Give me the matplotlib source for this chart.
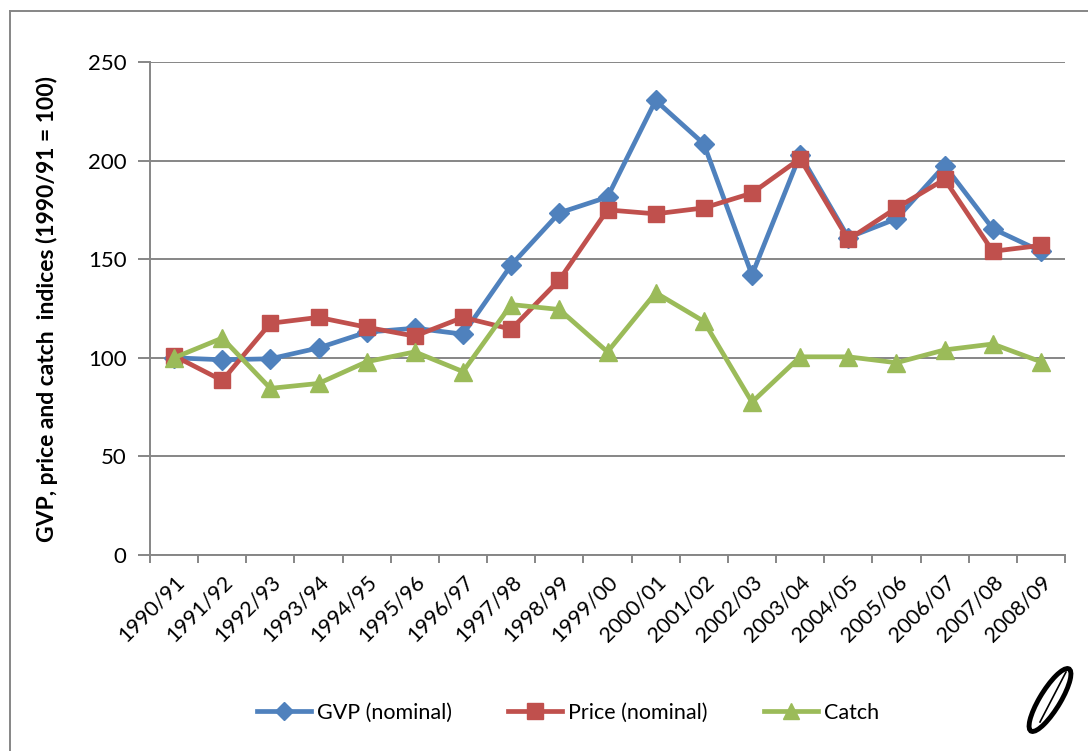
import matplotlib
matplotlib.use('Agg')
import matplotlib.pyplot as plt
from matplotlib.patches import Ellipse
from matplotlib.lines import Line2D
import numpy as np

plt.rcParams['font.family'] = ['Lato', 'DejaVu Sans']

years = ['1990/91', '1991/92', '1992/93', '1993/94', '1994/95', '1995/96',
         '1996/97', '1997/98', '1998/99', '1999/00', '2000/01', '2001/02',
         '2002/03', '2003/04', '2004/05', '2005/06', '2006/07', '2007/08',
         '2008/09']
gvp = [100, 99, 99.5, 105, 113, 115, 112, 147, 173.5, 181.5, 230.5, 208.5,
       142, 203, 161, 170.5, 197.5, 165.5, 154]
price = [101, 88.5, 117.5, 120.5, 115.5, 111, 120.5, 114.5, 139.5, 175, 173,
         176, 183.5, 201, 160, 176, 190.5, 154, 157]
catch = [100, 110, 84.5, 87, 98, 103, 93, 127, 124.5, 103, 133, 118.5, 77.5,
         100.5, 100.5, 97.5, 104, 107, 98]

blue = '#4F81BD'
red = '#C0504D'
green = '#9BBB59'
grey = '#868686'

fig = plt.figure(figsize=(10.88, 7.51), dpi=100)
ax = fig.add_axes([150 / 1088, 1 - 555 / 751, 915 / 1088, 493 / 751])

x = np.arange(len(years))
ax.plot(x, gvp, color=blue, lw=3.4, marker='D', ms=10, zorder=3, label='GVP (nominal)')
ax.plot(x, price, color=red, lw=3.4, marker='s', ms=12, zorder=4, label='Price (nominal)')
ax.plot(x, catch, color=green, lw=3.4, marker='^', ms=13, zorder=5, label='Catch')

ax.set_xlim(-0.5, len(years) - 0.5)
ax.set_ylim(0, 250)
ax.set_yticks(range(0, 251, 50))
ax.yaxis.grid(True, color=grey, lw=1.4)
ax.set_axisbelow(True)
for s in ['top', 'right']:
    ax.spines[s].set_visible(False)
for s in ['left', 'bottom']:
    ax.spines[s].set_color(grey)
    ax.spines[s].set_linewidth(1.4)

# ticks between categories, labels at centres
ax.set_xticks(np.arange(-0.5, len(years), 1))
ax.set_xticklabels([])
ax.set_xticks(x, minor=True)
ax.set_xticklabels(years, minor=True, rotation=45, ha='right',
                   rotation_mode='anchor', fontsize=15.5)
ax.tick_params(axis='x', which='major', length=6, width=1.4, color=grey, direction='out')
ax.tick_params(axis='x', which='minor', length=0, pad=12)
ax.tick_params(axis='y', length=9, width=1.4, color=grey, labelsize=16, pad=8)

ax.set_ylabel('GVP, price and catch  indices (1990/91 = 100)', fontsize=16.5,
              fontweight='bold')
ax.yaxis.set_label_coords(-0.1, 0.5)

handles = [Line2D([], [], color=blue, lw=3.4, marker='D', ms=9),
           Line2D([], [], color=red, lw=3.4, marker='s', ms=11),
           Line2D([], [], color=green, lw=3.4, marker='^', ms=12)]
fig.legend(handles, ['GVP (nominal)', 'Price (nominal)', 'Catch'],
           loc='center', bbox_to_anchor=(568 / 1088, 1 - 713 / 751), ncol=3,
           frameon=False, fontsize=15.5, handlelength=2.5, columnspacing=2.6,
           handletextpad=0.3)

# outer chart frame
fig.add_artist(Line2D([10 / 1088, 1], [1 - 11 / 751, 1 - 11 / 751], color=grey, lw=1.4,
                      transform=fig.transFigure))
fig.add_artist(Line2D([10 / 1088, 10 / 1088], [0, 1 - 11 / 751], color=grey, lw=1.4,
                      transform=fig.transFigure))

# small logo bottom right
lx, ly = 1050, 700
fig.add_artist(Ellipse((lx / 1088, 1 - ly / 751), 0.02, 0.09, angle=-22,
                       fill=False, ec='black', lw=3.5, transform=fig.transFigure))
fig.add_artist(Line2D([1040 / 1088, 1066 / 1088], [1 - 722 / 751, 1 - 672 / 751],
                      color='black', lw=1.2, transform=fig.transFigure))

fig.savefig('out.png', dpi=100)
